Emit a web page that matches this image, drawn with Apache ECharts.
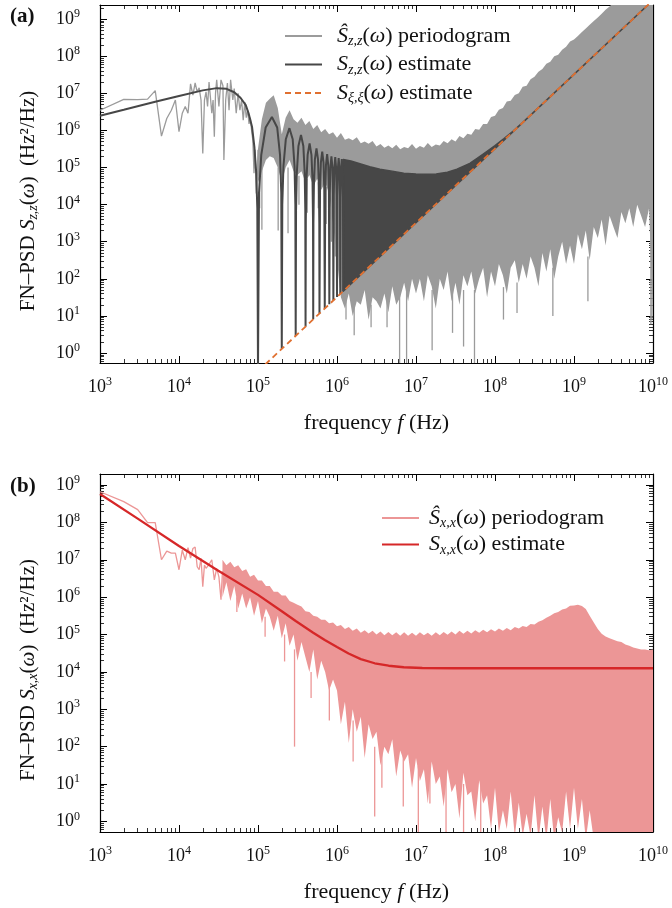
<!DOCTYPE html>
<html><head><meta charset="utf-8">
<script src="https://cdn.jsdelivr.net/npm/echarts@6/dist/echarts.min.js"></script>
<style>html,body{margin:0;padding:0;background:#fff}#c{width:672px;height:908px}</style>
</head><body><div id="c"></div>
<script>
// ---------------- Panel (a) data ----------------
// periodogram, low-frequency bins (line)
const pgA_lineF = [1e3,2e3,3e3,4e3,5e3,6e3,7e3,8e3,9e3,1e4,1.1e4,1.2e4,1.3e4,1.4e4,1.5e4,1.6e4,1.7e4,1.8e4,1.9e4,2e4,2.1e4,2.2e4,2.3e4,2.4e4,2.5e4,2.6e4,2.7e4,2.8e4,2.9e4,3e4,3.2e4,3.4e4,3.6e4,3.7e4,3.9e4,4.1e4,4.3e4,4.5e4,4.8e4,5e4,5.3e4,5.6e4,5.9e4,6.2e4,6.5e4,6.8e4,7.1e4,7.4e4,7.7e4,8e4,8.3e4,8.6e4,8.9e4,9.2e4,9.5e4,9.8e4,1e5];
const pgA_lineV = [3.5e6,6.9e6,6.8e6,7e6,1.18e7,7e5,2.1e6,3.5e6,6.6e6,9.3e5,2.9e6,4.4e6,2.9e6,1.8e7,9e6,1.9e7,1.1e7,1.4e7,6.6e6,2.4e5,6.6e6,1.1e7,4.4e6,2e7,7.7e6,2.9e6,6.6e6,6.8e5,1e7,2.3e7,4.4e6,2.3e7,1.6e7,1.6e5,6.6e6,1.9e7,3.5e6,2.3e7,6.6e6,1.35e7,2.9e6,1e7,3.5e6,6.6e6,1.9e6,5.8e6,2.2e6,3.5e6,1.5e6,2.2e6,1e6,5.5e5,7e4,3e5,2e4,7e4,3e5];
// periodogram, dense part (upper / lower envelope)
const pgA_bandF = [1e5,1.12e5,1.26e5,1.41e5,1.58e5,1.78e5,2e5,2.24e5,2.51e5,2.82e5,3.16e5,3.55e5,3.98e5,4.47e5,5.01e5,5.62e5,6.31e5,7.08e5,7.94e5,8.91e5,
1e6,1.12e6,1.26e6,1.41e6,1.58e6,1.78e6,2e6,2.24e6,2.51e6,2.82e6,3.16e6,3.55e6,3.98e6,4.47e6,5.01e6,5.62e6,6.31e6,7.08e6,7.94e6,8.91e6,
1e7,1.12e7,1.26e7,1.41e7,1.58e7,1.78e7,2e7,2.24e7,2.51e7,2.82e7,3.16e7,3.55e7,3.98e7,4.47e7,5.01e7,5.62e7,6.31e7,7.08e7,7.94e7,8.91e7,
1e8,1.12e8,1.26e8,1.41e8,1.58e8,1.78e8,2e8,2.24e8,2.51e8,2.82e8,3.16e8,3.55e8,3.98e8,4.47e8,5.01e8,5.62e8,6.31e8,7.08e8,7.94e8,8.91e8,
1e9,1.12e9,1.26e9,1.41e9,1.58e9,1.78e9,2e9,2.24e9,2.51e9,2.82e9,3.16e9,3.55e9,3.98e9,4.47e9,5.01e9,5.62e9,6.31e9,7.08e9,7.94e9,8.91e9,1e10];
const pgA_bandHi = [3.2e5,2e6,5.6e6,7.1e6,8.9e6,4e6,7.9e5,2.2e6,3.5e6,2e6,1.6e6,2.2e6,1.4e6,1.8e6,1.1e6,1.4e6,8.9e5,1.1e6,7.9e5,8.9e5,
6.3e5,8.5e5,5.6e5,6.2e5,5.4e5,6.6e5,4.5e5,5e5,4.4e5,5.2e5,3.7e5,4.3e5,3.4e5,3.9e5,3.3e5,4.1e5,3.1e5,3.6e5,3.3e5,4.3e5,
3.2e5,3.8e5,3.4e5,4.6e5,3.6e5,4.2e5,3.9e5,5.2e5,4.5e5,5.8e5,5e5,7.1e5,6.2e5,8.2e5,7.6e5,1.1e6,1.05e6,1.5e6,1.5e6,2.3e6,
2.5e6,3.6e6,4e6,6e6,6.3e6,9e6,1e7,1.5e7,1.6e7,2.4e7,2.8e7,3.8e7,4.5e7,6.3e7,7.1e7,1e8,1.1e8,1.5e8,1.8e8,2.5e8,
2.8e8,3.5e8,4.5e8,5.6e8,7.1e8,8.9e8,1.1e9,1.4e9,1.8e9,2.2e9,2.8e9,3.5e9,4.5e9,5.6e9,7.1e9,8.9e9,1.1e10,1.4e10,1.8e10,2.2e10,2.8e10];
const pgA_bandLo = [4e4,7.9e4,1.6e5,2e5,1.8e5,1e5,4e4,1e5,1.6e5,7.9e4,6.3e4,7.9e4,4e4,6.3e4,3.2e4,5e4,2.5e4,4e4,2e4,3.2e3,
320,32,16,40,10,25,20,50,7.9,32,25,16,40,12.6,63,20,32,79,25,100,
40,100,25,126,63,16,100,50,158,25,79,20,126,63,158,40,100,200,32,158,
63,251,126,40,200,316,79,251,100,398,200,63,501,158,631,100,398,1000,251,794,
251,1585,631,1995,316,2512,1259,3981,794,5012,2512,1259,6310,3162,7943,2512,1e4,5012,2512,7943,10];
// periodogram, narrow deep dips
const pgA_spikeF  = [1.05e5,1.12e5,1.8e5,2.4e5,3.3e5,4.2e5,5.8e5,7.3e5,8.5e5,9.5e5,1.3e6,1.65e6,2.7e6,4.3e6,6.2e6,7.6e6,1.6e7,2.9e7,4e7,5.5e7,1.28e8,1.9e8,5.4e8,1.5e9,9.4e9,9.7e9];
const pgA_spikeLo = [8e3,2.1e3,2e3,1.7e3,1e4,6e3,8e3,3e3,1e3,400,8,3,5,5,0.3,0.3,1.2,3.5,1.5,0.3,8,12,10,25,6,8];
const pgA_spikeHi = [1e5,1e5,1e5,1e5,6e4,5e4,4e4,3e4,2e4,5e3,30,20,20,30,50,50,50,50,50,50,60,80,200,400,3000,3000];
// S_zz estimate: main lobe + side lobes (line)
const estA_F = [1e3,2e3,5e3,1e4,2e4,3e4,4e4,5e4,6e4,7e4,7.6e4,8.4e4,9e4,9.5e4,9.8e4,1e5,
1.03e5,1.1e5,1.25e5,1.5e5,1.75e5,1.9e5,1.97e5,2e5,
2.03e5,2.1e5,2.25e5,2.5e5,2.75e5,2.9e5,2.97e5,3e5,
3.03e5,3.1e5,3.25e5,3.5e5,3.75e5,3.9e5,3.97e5,4e5,
4.03e5,4.1e5,4.25e5,4.5e5,4.75e5,4.9e5,4.97e5,5e5,
5.03e5,5.1e5,5.25e5,5.5e5,5.75e5,5.9e5,5.97e5,6e5,
6.1e5,6.25e5,6.5e5,6.75e5,6.9e5,7e5,
7.1e5,7.25e5,7.5e5,7.75e5,7.9e5,8e5,
8.1e5,8.25e5,8.5e5,8.75e5,8.9e5,9e5,
9.1e5,9.25e5,9.5e5,9.75e5,9.9e5,1e6,
1.01e6,1.025e6,1.05e6,1.075e6,1.09e6,1.1e6,
1.11e6,1.125e6,1.15e6,1.175e6,1.19e6,1.2e6];
const estA_V = [2.5e6,3.6e6,5.9e6,8.5e6,1.2e7,1.38e7,1.32e7,1.07e7,7.6e6,4.8e6,2.9e6,1.26e6,3.6e5,7.1e4,8e3,0.32,
2.1e4,2.2e5,1.2e6,2.3e6,1.2e6,2.2e5,2.1e4,1.3,
1e4,1.1e5,5.8e5,1.15e6,5.8e5,1.1e5,1e4,2.9,
6.8e3,7.2e4,3.8e5,7.6e5,3.8e5,7.2e4,6.8e3,5.2,
4e3,4.3e4,2.2e5,4.5e5,2.2e5,4.3e4,4e3,8.1,
3e3,3.2e4,1.65e5,3.3e5,1.65e5,3.2e4,3e3,11.7,
2.6e4,1.35e5,2.7e5,1.35e5,2.6e4,15.9,
2.2e4,1.15e5,2.3e5,1.15e5,2.2e4,20.7,
1.9e4,1e5,2e5,1e5,1.9e4,26.2,
1.8e4,9.5e4,1.9e5,9.5e4,1.8e4,32.4,
1.7e4,9e4,1.8e5,9e4,1.7e4,39.2,
1.6e4,8.5e4,1.7e5,8.5e4,1.6e4,46.7];
// S_zz estimate: dense oscillation region (upper envelope / lower edge)
const estA_envF = [1.2e6,1.5e6,2e6,2.6e6,3.5e6,5e6,7e6,1e7,1.4e7,1.8e7,2.5e7,3.3e7,4.8e7,6e7,7.85e7,1e8,1.3e8,1.7e8,2.2e8,1e9,1e10];
const estA_envV = [1.65e5,1.5e5,1.25e5,1.05e5,9e4,8e4,7e4,6.7e4,6.6e4,6.7e4,7.5e4,9e4,1.3e5,1.8e5,2.7e5,3.9e5,6e5,9.6e5,1.57e6,3.24e7,3.24e9];
const estA_loF = [1.2e6,1e7,1e8,1e9,1e10];
const estA_loV = [46.7,3240,3.24e5,3.24e7,3.24e9];
// S_xixi estimate (dashed)
const xiA_F = [1e5,1e6,1e7,1e8,1e9,1e10];
const xiA_V = [0.324,32.4,3240,3.24e5,3.24e7,3.24e9];

// ---------------- Panel (b) data ----------------
const pgB_lineF = [1e3,2e3,3e3,4e3,5e3,6e3,7e3,8e3,9e3,1e4,1.1e4,1.2e4,1.3e4,1.4e4,1.5e4,1.6e4,1.7e4,1.8e4,1.9e4,2e4,2.1e4,2.2e4,2.4e4,2.6e4,2.7e4,2.8e4,3e4,3.2e4,3.4e4,3.55e4];
const pgB_lineV = [6.6e8,3.6e8,2.2e8,9.8e7,9.8e7,1e7,1.7e7,1.5e7,1.5e7,5.4e6,1.8e7,1e7,2.1e7,1.1e7,2e7,2.2e7,6.5e6,5.4e6,1.1e7,1.9e6,7.2e6,5.9e6,7.5e6,1e7,5.4e6,2.9e6,5.9e6,3.5e6,8.5e5,5e6];
const pgB_bandF = [3.55e4,3.98e4,4.47e4,5.01e4,5.62e4,6.31e4,7.08e4,7.94e4,8.91e4,
1e5,1.12e5,1.26e5,1.41e5,1.58e5,1.78e5,2e5,2.24e5,2.51e5,2.82e5,3.16e5,3.55e5,3.98e5,4.47e5,5.01e5,5.62e5,6.31e5,7.08e5,7.94e5,8.91e5,
1e6,1.12e6,1.26e6,1.41e6,1.58e6,1.78e6,2e6,2.24e6,2.51e6,2.82e6,3.16e6,3.55e6,3.98e6,4.47e6,5.01e6,5.62e6,6.31e6,7.08e6,7.94e6,8.91e6,
1e7,1.12e7,1.26e7,1.41e7,1.58e7,1.78e7,2e7,2.24e7,2.51e7,2.82e7,3.16e7,3.55e7,3.98e7,4.47e7,5.01e7,5.62e7,6.31e7,7.08e7,7.94e7,8.91e7,
1e8,1.12e8,1.26e8,1.41e8,1.58e8,1.78e8,2e8,2.24e8,2.51e8,2.82e8,3.16e8,3.55e8,3.98e8,4.47e8,5.01e8,5.62e8,6.31e8,7.08e8,7.94e8,8.91e8,
1e9,1.12e9,1.26e9,1.41e9,1.58e9,1.78e9,2e9,2.24e9,2.51e9,2.82e9,3.16e9,3.55e9,3.98e9,4.47e9,5.01e9,5.62e9,6.31e9,7.08e9,7.94e9,8.91e9,1e10];
const pgB_bandHi = [1e7,7.1e6,8.9e6,6.3e6,7.1e6,5e6,5.6e6,3.5e6,4e6,
2.8e6,2.8e6,2e6,2e6,1.4e6,1.4e6,1.1e6,1.1e6,7.9e5,7.1e5,6.3e5,5.6e5,4.2e5,4e5,3.2e5,3e5,2.5e5,2.5e5,2e5,2.1e5,
1.66e5,1.8e5,1.4e5,1.6e5,1.26e5,1.45e5,1.12e5,1.3e5,1.07e5,1.26e5,1e5,1.2e5,9.5e4,1.17e5,9.5e4,1.15e5,9.3e4,1.15e5,9.3e4,1.12e5,
9.3e4,1.15e5,9.5e4,1.12e5,9.3e4,1.15e5,9.5e4,1.17e5,9.8e4,1.2e5,1e5,1.26e5,1.05e5,1.26e5,1.07e5,1.3e5,1.12e5,1.35e5,1.15e5,1.38e5,
1.2e5,1.45e5,1.26e5,1.5e5,1.3e5,1.6e5,1.45e5,1.7e5,1.6e5,1.9e5,1.86e5,2.2e5,2.4e5,2.8e5,3.2e5,3.7e5,4e5,4.7e5,5e5,5.9e5,
6e5,6.3e5,5.8e5,4.8e5,3.2e5,2.1e5,1.4e5,1.05e5,8.9e4,7.9e4,7.2e4,6.6e4,6.3e4,5.4e4,5e4,4.5e4,4.2e4,4e4,4e4,3.8e4,4e4];
const pgB_bandLo = [1e6,2.5e6,7.9e5,2e6,5e5,1.26e6,5e5,1e6,3.2e5,
7.9e5,2e5,5e5,3e5,1.26e5,3.2e5,7.9e4,2e5,5e4,1e5,2e4,6.3e4,2.5e4,1e4,4e4,6.3e3,2e4,1e4,3.2e3,6.3e3,
3.2e3,400,1.6e3,126,1e3,250,630,50,400,160,250,32,100,63,158,16,79,40,63,7.9,
50,12,25,3,40,10,16,2.5,25,6,10,1.2,20,5,6.3,1,12.6,3,5,0.63,
7.9,0.5,2,0.63,6.3,0.4,3.2,0.4,1.6,0.4,5,0.32,2.5,0.32,4,0.32,1.3,0.5,6.3,0.63,
7.9,0.63,4,0.32,2,0.32,0.3,0.3,0.3,0.3,0.3,0.3,0.3,0.3,0.3,0.3,0.3,0.3,0.3,0.3,0.3];
const pgB_spikeF  = [5.4e4,1.23e5,2.17e5,2.9e5,4.7e5,8e5,1.6e6,3e6,3.7e6,6.9e6,1.07e7,1.5e7,2.4e7,4e7,6.6e7];
const pgB_spikeLo = [4e5,8.7e4,1.9e4,100,2e3,500,40,1.35,8,2.5,0.3,3,0.3,0.3,0.3];
const pgB_spikeHi = [1e6,3e5,1e5,4e4,1e4,5e3,500,100,100,60,30,30,20,10,10];
const estB_F = [1e3,3e3,1e4,3e4,1e5,2e5,3e5,5e5,7e5,1e6,1.4e6,2e6,3e6,4.5e6,7e6,1.2e7,3e7,1e10];
const estB_V = [5.75e8,1.26e8,2.34e7,5.4e6,1.15e6,4.2e5,2.3e5,1.12e5,7.1e4,4.6e4,3.1e4,2.2e4,1.7e4,1.46e4,1.33e4,1.27e4,1.25e4,1.25e4];

// tick labels (exponents of 10 shown on the axes)
const xTickExp = [3,4,5,6,7,8,9,10];
const yTickExp = [0,1,2,3,4,5,6,7,8,9];

// ---------------- styling ----------------
const SERIF = "'Liberation Serif','DejaVu Serif',serif";
const INK = '#111';
const C_PG_A = '#9b9b9b', C_EST_A = '#474747', C_XI = '#e07030';
const C_PG_B = '#ec9696', C_EST_B = '#d62728';

const richTick = {
  b: {fontFamily: SERIF, fontSize: 18, lineHeight: 22, color: INK},
  s: {fontFamily: SERIF, fontSize: 12, lineHeight: 12, verticalAlign: 'top', color: INK}
};
function richOf(size, subSize) {
  return {
    n: {fontFamily: SERIF, fontSize: size, lineHeight: size + 3, color: INK},
    i: {fontFamily: SERIF, fontStyle: 'italic', fontSize: size, lineHeight: size + 3, color: INK},
    sub: {fontFamily: SERIF, fontStyle: 'italic', fontSize: subSize, lineHeight: subSize, verticalAlign: 'bottom', color: INK}
  };
}
const richLegend = richOf(22, 14);
const richXName = richOf(22, 14);
const richYName = richOf(21, 14);
function powLabel(v) {
  const e = Math.log10(v), r = Math.round(e);
  if (Math.abs(e - r) > 1e-6) return '';
  if (xTickExp.indexOf(r) < 0 && yTickExp.indexOf(r) < 0) return '';
  return '{b|10}{s|' + r + '}';
}
const pairs = (f, v) => f.map((x, i) => [x, v[i]]);

const axLine = {show: true, onZero: false, lineStyle: {color: '#000', width: 1.2}};
const axTick = {show: true, inside: true, length: 7, lineStyle: {color: '#000', width: 1}};
const axMinor = {show: true, splitNumber: 9, length: 4, lineStyle: {color: '#000', width: 0.8}};

function xAxesFor(gi) {
  const c = {type: 'log', logBase: 10, min: 1e3, max: 1e10, gridIndex: gi, axisLine: axLine, axisTick: axTick, minorTick: axMinor, splitLine: {show: false}, minorSplitLine: {show: false}};
  return [
    Object.assign({}, c, {position: 'bottom',
      axisLabel: {formatter: powLabel, rich: richTick, margin: 13, showMinLabel: true, showMaxLabel: true},
      name: '{n|frequency }{i|f}{n| (Hz)}', nameLocation: 'middle', nameGap: 48, nameTextStyle: {rich: richXName}}),
    Object.assign({}, c, {position: 'top', axisLabel: {show: false}})
  ];
}
function yAxesFor(gi, mn, mx, nameStr) {
  const c = {type: 'log', logBase: 10, min: mn, max: mx, gridIndex: gi, axisLine: axLine, axisTick: axTick, minorTick: axMinor, splitLine: {show: false}, minorSplitLine: {show: false}};
  return [
    Object.assign({}, c, {position: 'left',
      axisLabel: {formatter: powLabel, rich: richTick, margin: 20, showMinLabel: false, showMaxLabel: false},
      name: nameStr, nameLocation: 'middle', nameRotate: 90, nameGap: 60,
      nameTextStyle: {rich: richYName, padding: [0, 34, 0, 0]}}),
    Object.assign({}, c, {position: 'right', axisLabel: {show: false}})
  ];
}

function clipRect(params) {
  const cs = params.coordSys;
  return {type: 'rect', shape: {x: cs.x, y: cs.y, width: cs.width, height: cs.height}};
}
function bandSeries(xi, yi, hiF, hiV, loF, loV, fill, stroke, lw) {
  return {
    type: 'custom', xAxisIndex: xi, yAxisIndex: yi, silent: true, clip: true,
    data: [[hiF[1], hiV[1]]], encode: {x: 0, y: 1},
    renderItem: function (params, api) {
      const pts = [];
      for (let i = 0; i < hiF.length; i++) pts.push(api.coord([hiF[i], hiV[i]]));
      for (let i = loF.length - 1; i >= 0; i--) pts.push(api.coord([loF[i], loV[i]]));
      return {type: 'polygon', shape: {points: pts}, clipPath: clipRect(params),
        style: {fill: fill, stroke: stroke || null, lineWidth: lw || 0, lineJoin: 'round'}};
    }
  };
}
function spikeSeries(xi, yi, F, lo, hi, color) {
  return {
    type: 'custom', xAxisIndex: xi, yAxisIndex: yi, silent: true, clip: true,
    data: F.map((f, i) => [f, lo[i], hi[i]]), encode: {x: 0, y: [1, 2]},
    renderItem: function (params, api) {
      const p1 = api.coord([api.value(0), api.value(1)]);
      const p2 = api.coord([api.value(0), api.value(2)]);
      return {type: 'line', shape: {x1: p1[0], y1: p1[1], x2: p2[0], y2: p2[1]}, clipPath: clipRect(params),
        style: {stroke: color, lineWidth: 1.3}};
    }
  };
}
function lineSeries(name, xi, yi, F, V, color, width, type) {
  return {name: name, type: 'line', xAxisIndex: xi, yAxisIndex: yi, data: pairs(F, V),
    symbol: 'none', showSymbol: false, clip: true, silent: true,
    lineStyle: {color: color, width: width, type: type || 'solid'}, itemStyle: {color: color}};
}

const legendText = {
  pgA: '{i|Ŝ}{sub|z,z}{n|(}{i|ω}{n|) periodogram}',
  estA: '{i|S}{sub|z,z}{n|(}{i|ω}{n|) estimate}',
  xiA: '{i|S}{sub|ξ,ξ}{n|(}{i|ω}{n|) estimate}',
  pgB: '{i|Ŝ}{sub|x,x}{n|(}{i|ω}{n|) periodogram}',
  estB: '{i|S}{sub|x,x}{n|(}{i|ω}{n|) estimate}'
};

const option = {
  animation: false,
  backgroundColor: '#fff',
  textStyle: {fontFamily: SERIF},
  title: [
    {text: '(a)', left: 10, top: 6, padding: 0, textStyle: {fontFamily: SERIF, fontWeight: 'bold', fontSize: 21, color: INK}},
    {text: '(b)', left: 10, top: 476, padding: 0, textStyle: {fontFamily: SERIF, fontWeight: 'bold', fontSize: 21, color: INK}}
  ],
  grid: [
    {left: 100, top: 5, width: 553, height: 358, containLabel: false},
    {left: 100, top: 474, width: 553, height: 358, containLabel: false}
  ],
  legend: [
    {data: ['pgA', 'estA', 'xiA'], orient: 'vertical', left: 284, top: 25, padding: 0, itemWidth: 37, itemHeight: 14, itemGap: 5,
      selectedMode: false, formatter: n => legendText[n], itemStyle: {opacity: 0},
      textStyle: {rich: richLegend, padding: [0, 0, 0, 10]}},
    {data: ['pgB', 'estB'], orient: 'vertical', left: 381, top: 507, padding: 0, itemWidth: 37, itemHeight: 14, itemGap: 3,
      selectedMode: false, formatter: n => legendText[n], itemStyle: {opacity: 0},
      textStyle: {rich: richLegend, padding: [0, 0, 0, 5]}}
  ],
  xAxis: [].concat(xAxesFor(0), xAxesFor(1)),
  yAxis: [].concat(
    yAxesFor(0, 0.54, 2.4e9, '{n|FN–PSD }{i|S}{sub|z,z}{n|(}{i|ω}{n|)  (Hz²/Hz)}'),
    yAxesFor(1, 0.52, 1.97e9, '{n|FN–PSD }{i|S}{sub|x,x}{n|(}{i|ω}{n|)  (Hz²/Hz)}')
  ),
  series: [
    // panel (a)
    bandSeries(0, 0, pgA_bandF, pgA_bandHi, pgA_bandF, pgA_bandLo, C_PG_A),
    spikeSeries(0, 0, pgA_spikeF, pgA_spikeLo, pgA_spikeHi, C_PG_A),
    lineSeries('pgA', 0, 0, pgA_lineF, pgA_lineV, C_PG_A, 1.3),
    lineSeries('estA', 0, 0, estA_F, estA_V, C_EST_A, 2),
    bandSeries(0, 0, estA_envF, estA_envV, estA_loF, estA_loV, C_EST_A, C_EST_A, 1.5),
    lineSeries('xiA', 0, 0, xiA_F, xiA_V, C_XI, 1.8, [6, 4]),
    // panel (b)
    bandSeries(2, 2, pgB_bandF, pgB_bandHi, pgB_bandF, pgB_bandLo, C_PG_B),
    spikeSeries(2, 2, pgB_spikeF, pgB_spikeLo, pgB_spikeHi, C_PG_B),
    lineSeries('pgB', 2, 2, pgB_lineF, pgB_lineV, C_PG_B, 1.3),
    lineSeries('estB', 2, 2, estB_F, estB_V, C_EST_B, 2.3)
  ]
};
const chart = echarts.init(document.getElementById('c'), null, {renderer: 'canvas'});
chart.setOption(option);
</script></body></html>
